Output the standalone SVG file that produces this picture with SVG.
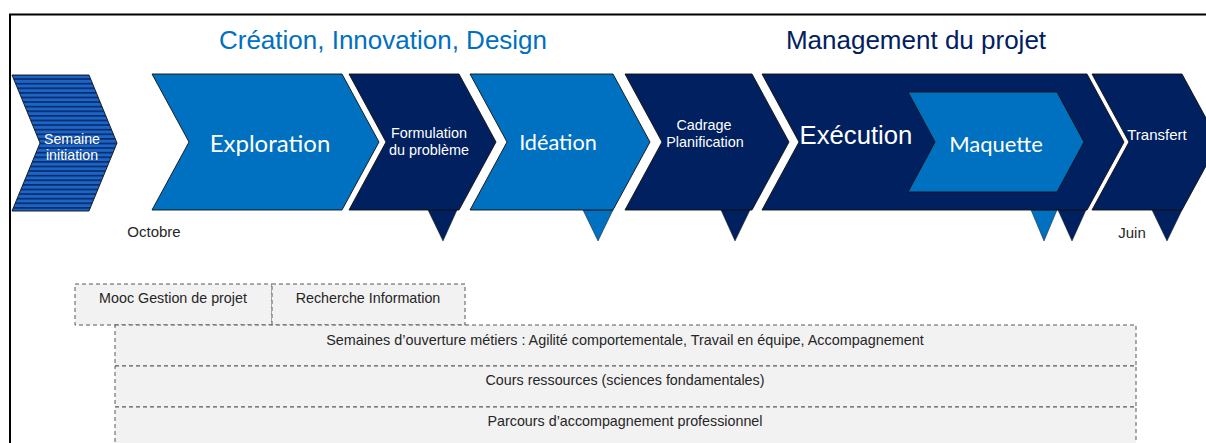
<svg xmlns="http://www.w3.org/2000/svg" width="1206" height="443" viewBox="0 0 1206 443">
<defs>
<pattern id="stripes" patternUnits="userSpaceOnUse" width="20" height="4.6">
<rect x="0" y="0" width="20" height="4.6" fill="#1a66c4"/>
<rect x="0" y="0" width="20" height="1.7" fill="#0e2a6e"/>
</pattern>
<style>
.blue{fill:#0070C0;stroke:#111;stroke-width:0.9}
.navy{fill:#002060;stroke:#111;stroke-width:0.9}
.tb{fill:#0070C0;stroke:#1a1a1a;stroke-width:0.5}
.tn{fill:#002060;stroke:#1a1a1a;stroke-width:0.5}
.wa{font-family:"Liberation Sans",Arial,sans-serif;fill:#fff;text-anchor:middle}
.wc{font-family:Lato,"Open Sans",sans-serif;fill:#fff;text-anchor:middle}
.lbl{font-family:"Liberation Sans",Arial,sans-serif;fill:#262626;text-anchor:middle;font-size:14.3px}
.box{fill:#f2f2f2;stroke:#595959;stroke-width:1;stroke-dasharray:4 3}
.title{font-family:"Liberation Sans",Arial,sans-serif;font-size:26px;text-anchor:middle}
</style>
</defs>
<rect width="1206" height="443" fill="#fff"/>
<g id="frame">
<line x1="9" y1="14.5" x2="1206" y2="14.5" stroke="#000" stroke-width="2"/>
<line x1="10" y1="14" x2="10" y2="443" stroke="#000" stroke-width="2"/>
</g>
<g id="titles">
<text class="title" x="383" y="49" fill="#0070C0">Création, Innovation, Design</text>
<text class="title" x="916" y="49" fill="#002060">Management du projet</text>
</g>
<g id="connectors">
<polygon class="tn" points="428,210 457,210 443,241"/>
<polygon class="tb" points="583,210 613,210 598,241"/>
<polygon class="tn" points="721,210 750,210 735,241"/>
<polygon class="tb" points="1031,210 1057,210 1044,241"/>
<polygon class="tn" points="1058,210 1086,210 1072,241"/>
<polygon class="tn" points="1152,210 1182,210 1167,241"/>
</g>
<g id="semaine">
<polygon points="12,75 89,75 117,143 89,211 12,211 40,143" fill="url(#stripes)" stroke="#111" stroke-width="0.9"/>
<text class="wa" x="72" y="144" font-size="14.2">Semaine</text>
<text class="wa" x="72" y="160" font-size="14.2">initiation</text>
</g>
<g id="exploration">
<polygon class="blue" points="152,74 342,74 379,142 342,210 152,210 189,142"/>
<text class="wc" x="270" y="152" font-size="24">Exploration</text>
</g>
<g id="formulation">
<polygon class="navy" points="349,74 459,74 496,142 459,210 349,210 386,142"/>
<text class="wa" x="429" y="138" font-size="14.4">Formulation</text>
<text class="wa" x="429" y="155" font-size="14.4">du problème</text>
</g>
<g id="ideation">
<polygon class="blue" points="470,74 613,74 650,142 613,210 470,210 507,142"/>
<text class="wc" x="558" y="150" font-size="21.7">Idéation</text>
</g>
<g id="cadrage">
<polygon class="navy" points="625,74 752,74 789,142 752,210 625,210 662,142"/>
<text class="wa" x="704" y="130" font-size="14.4">Cadrage</text>
<text class="wa" x="705" y="147" font-size="14.4">Planification</text>
</g>
<g id="execution">
<polygon class="navy" points="762,74 1087,74 1124,142 1087,210 762,210 799,142"/>
<text class="wa" x="856" y="144" font-size="25.7">Exécution</text>
</g>
<g id="maquette">
<polygon class="blue" points="908,92 1057,92 1084,142 1057,192 908,192 935,142"/>
<text class="wc" x="996" y="152" font-size="22">Maquette</text>
</g>
<g id="transfert">
<polygon class="navy" points="1092,74 1182,74 1219,142 1182,210 1092,210 1129,142"/>
<text class="wa" x="1157" y="140" font-size="15">Transfert</text>
</g>
<g id="dates">
<text class="lbl" x="154" y="237" style="font-size:15px">Octobre</text>
<text class="lbl" x="1132" y="238" style="font-size:15px">Juin</text>
</g>
<g id="mooc">
<rect class="box" x="75" y="284" width="197" height="41"/>
<text class="lbl" x="173" y="302.5">Mooc Gestion de projet</text>
</g>
<g id="recherche">
<rect class="box" x="272" y="284" width="193" height="41"/>
<text class="lbl" x="368" y="302.5">Recherche Information</text>
</g>
<g id="semaines-ouverture">
<rect class="box" x="115" y="325" width="1021" height="41"/>
<text class="lbl" x="625" y="344.5" style="font-size:14.4px">Semaines d’ouverture métiers : Agilité comportementale, Travail en équipe, Accompagnement</text>
</g>
<g id="cours">
<rect class="box" x="115" y="366" width="1021" height="41"/>
<text class="lbl" x="625" y="384.5">Cours ressources (sciences fondamentales)</text>
</g>
<g id="parcours">
<rect class="box" x="115" y="407" width="1021" height="50"/>
<text class="lbl" x="625" y="425.5">Parcours d’accompagnement professionnel</text>
</g>
</svg>
